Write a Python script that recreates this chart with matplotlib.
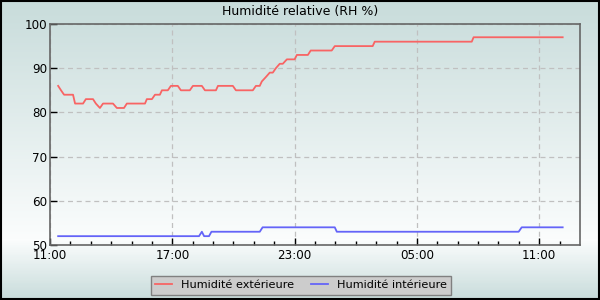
import numpy as np
import matplotlib
matplotlib.use("Agg")
import matplotlib.pyplot as plt
from matplotlib.colors import LinearSegmentedColormap
from matplotlib.patches import Rectangle

# hours elapsed since 11:00 and relative humidity (%)
ext_hours = [0.4, 0.54, 0.69, 1.13, 1.23, 1.62, 1.76, 2.11, 2.25, 2.45, 2.6, 3.09,
             3.28, 3.63, 3.77, 4.66, 4.75, 5.0, 5.15, 5.39, 5.49, 5.78, 5.93, 6.27,
             6.42, 6.86, 7.01, 7.45, 7.6, 8.14, 8.24, 8.97, 9.12, 9.95, 10.1, 10.29,
             10.39, 10.59, 10.78, 10.93, 11.08, 11.27, 11.42, 11.62, 12.0, 12.11,
             12.65, 12.79, 13.82, 13.97, 15.83, 15.93, 20.69, 20.78, 25.15]
ext_rh = [86, 85, 84, 84, 82, 82, 83, 83, 82, 81, 82, 82,
          81, 81, 82, 82, 83, 83, 84, 84, 85, 85, 86, 86,
          85, 85, 86, 86, 85, 85, 86, 86, 85, 85, 86, 86,
          87, 88, 89, 89, 90, 91, 91, 92, 92, 93,
          93, 94, 94, 95, 95, 96, 96, 97, 97]

int_hours = [0.4, 7.31, 7.45, 7.56, 7.8, 7.92, 10.29, 10.43, 13.97, 14.07, 22.99, 23.14, 25.15]
int_rh = [52, 52, 53, 52, 52, 53, 53, 54, 54, 53, 53, 54, 54]

tick_hours = [0, 6, 12, 18, 24]
tick_labels = ["11:00", "17:00", "23:00", "05:00", "11:00"]
y_ticks = [50, 60, 70, 80, 90, 100]

fig = plt.figure(figsize=(6, 3), dpi=100)

# background gradient over the whole image
bg = fig.add_axes([0, 0, 1, 1], zorder=-2)
cmap = LinearSegmentedColormap.from_list(
    "bg", [(0.0, "#c8dcdb"), (0.8, "#fbfdfd"), (1.0, "#c8dcdb")])
grad = np.linspace(0, 1, 300).reshape(-1, 1)
bg.imshow(grad, aspect="auto", cmap=cmap, extent=[0, 1, 1, 0])
bg.set_xlim(0, 1)
bg.set_ylim(1, 0)
bg.axis("off")
fig.patches.append(Rectangle((0.001, 0.002), 0.997, 0.995, transform=fig.transFigure,
                             fill=False, edgecolor="black", linewidth=1.5))

ax = fig.add_axes([50 / 600, 55 / 300, 530 / 600, 221 / 300])
ax.patch.set_alpha(0)
ax.plot(ext_hours, ext_rh, color="#f86464", lw=1.3, label="Humidité extérieure")
ax.plot(int_hours, int_rh, color="#6464f8", lw=1.3, label="Humidité intérieure")

ax.set_xlim(0, 26)
ax.set_ylim(50, 100)
ax.set_xticks(tick_hours)
ax.set_xticklabels(tick_labels)
ax.set_xticks(np.arange(0, 26, 1), minor=True)
ax.set_yticks(y_ticks)
ax.tick_params(axis="both", which="major", direction="in", length=5, width=1,
               labelsize=8.6, pad=2, colors="black")
ax.tick_params(axis="x", which="minor", direction="in", length=3, width=1)
ax.tick_params(axis="x", pad=3)
ax.grid(True, which="major", color="#c0c0c0", linestyle=(0, (4, 3)), linewidth=0.9)
for s in ax.spines.values():
    s.set_color("#666666")
    s.set_linewidth(1.2)

fig.text(0.5, 1 - 12 / 300, "Humidité relative (RH %)", ha="center", va="center",
         fontsize=9)

leg = fig.legend(loc="center", bbox_to_anchor=(301 / 600, 1 - 285 / 300), ncol=2,
                 fontsize=8.1, frameon=True, fancybox=False, handlelength=1.5,
                 columnspacing=1.5, borderpad=0.4, handletextpad=0.8)
leg.get_frame().set_facecolor("#cccccc")
leg.get_frame().set_edgecolor("#808080")
leg.get_frame().set_alpha(1)

fig.savefig("out.png", dpi=100)
